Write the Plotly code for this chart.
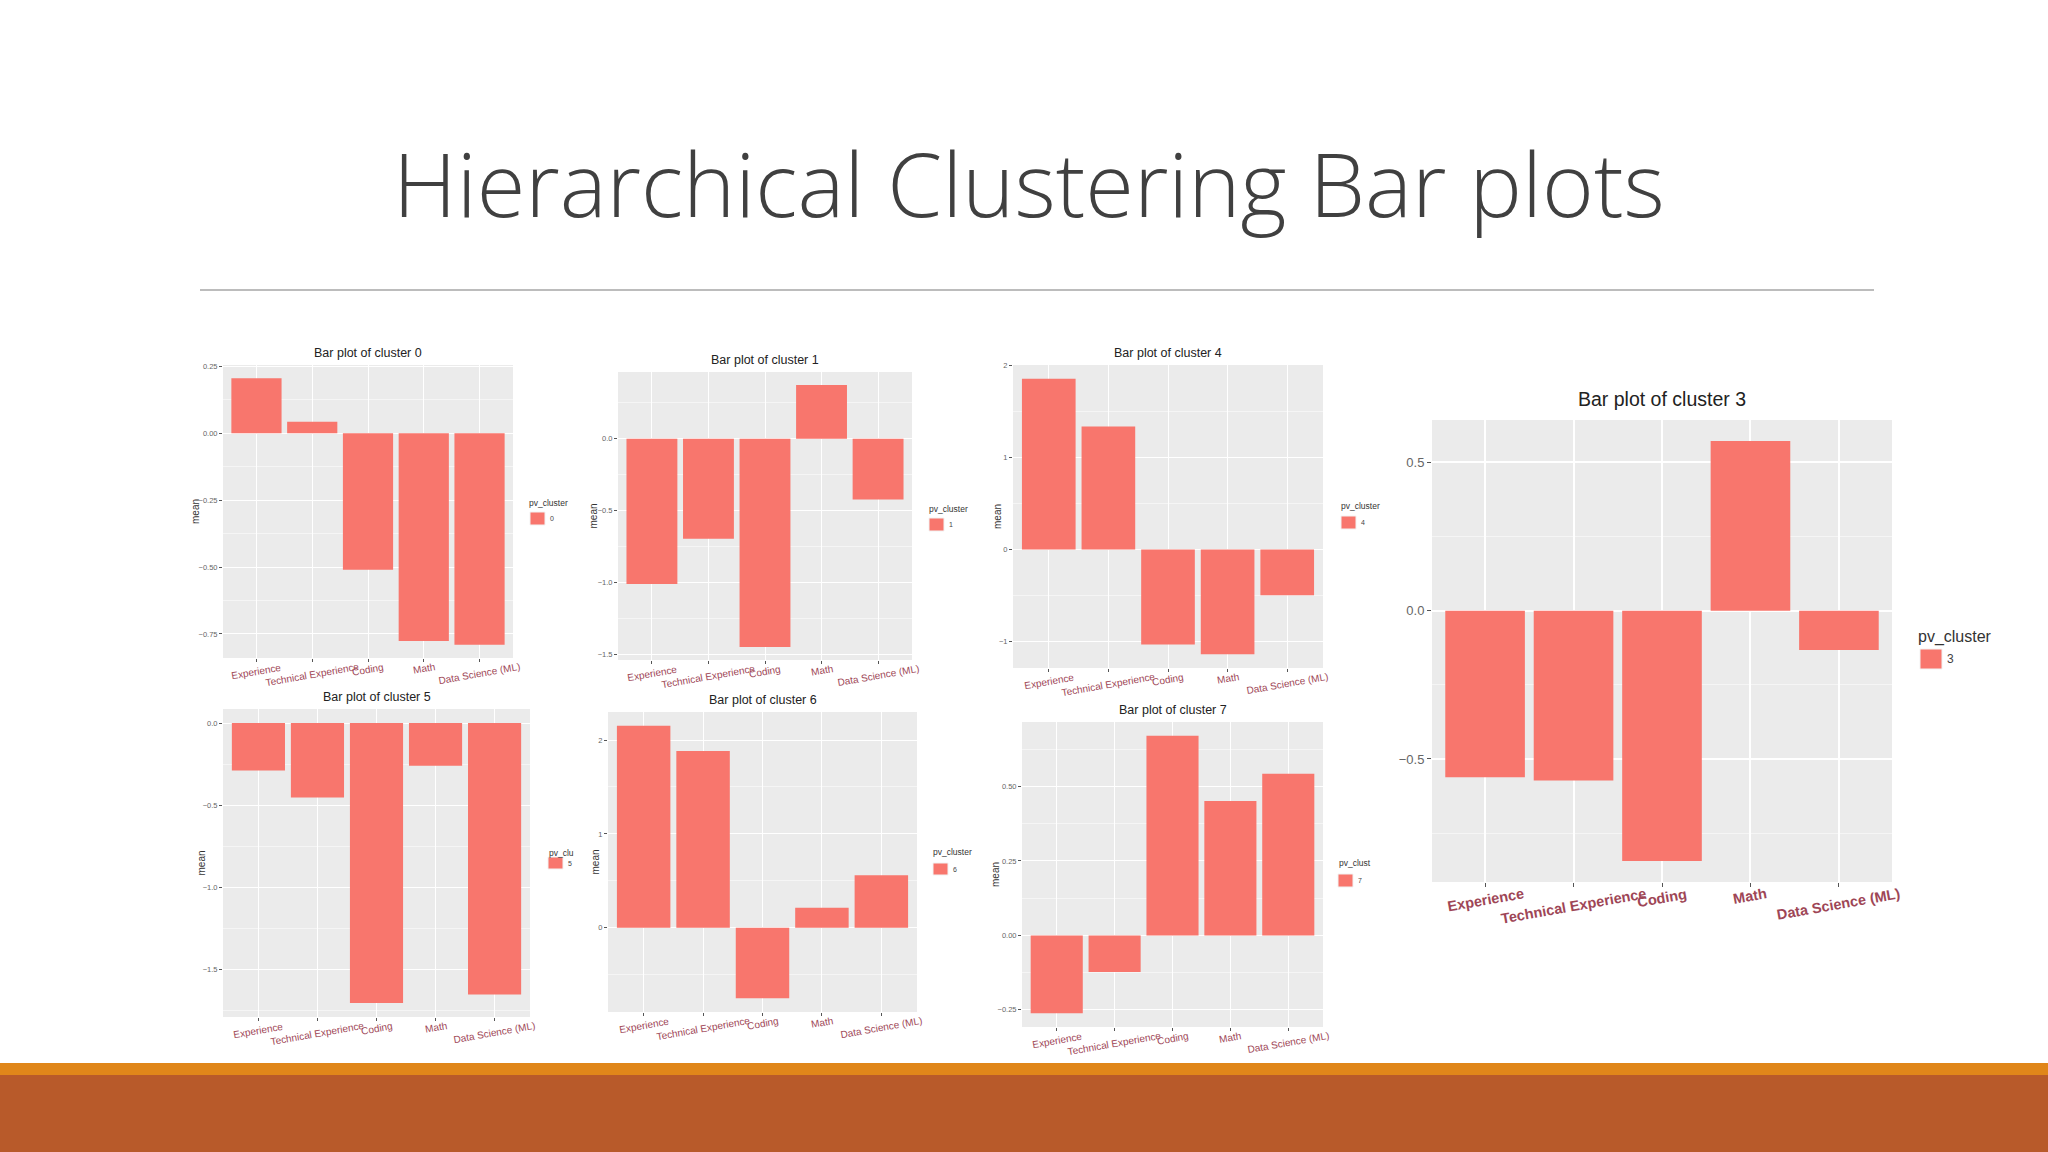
import plotly.graph_objects as go

# values (ggplot bar plots of cluster means)
categories = ["Experience", "Technical Experience", "Coding", "Math", "Data Science (ML)"]
cluster_ids = ["0", "1", "4", "3", "5", "6", "7"]
mean_0 = [0.205, 0.043, -0.510, -0.776, -0.790]
mean_1 = [-1.010, -0.695, -1.447, 0.373, -0.423]
mean_4 = [1.855, 1.337, -1.033, -1.140, -0.500]
mean_3 = [-0.562, -0.573, -0.844, 0.572, -0.133]
mean_5 = [-0.290, -0.453, -1.705, -0.261, -1.654]
mean_6 = [2.153, 1.883, -0.751, 0.214, 0.559]
mean_7 = [-0.261, -0.123, 0.670, 0.451, 0.543]
means = [mean_0, mean_1, mean_4, mean_3, mean_5, mean_6, mean_7]
legend_titles = ["pv_cluster", "pv_cluster", "pv_cluster", "pv_cluster", "pv_clu", "pv_cluster", "pv_clust"]
y_dtick = [0.25, 0.5, 1, 0.5, 0.5, 1, 0.25]
y_format = [".2f", ".1f", "d", ".1f", ".1f", "d", ".2f"]

W, H = 2048, 1152
BAR = "#F8766D"

# panel boxes in px: left, right, top, bottom
boxes = [
    (223, 513, 365, 658),
    (618, 912, 372, 660),
    (1013, 1323, 365, 668),
    (1432, 1892, 420, 882),
    (223, 530, 709, 1017),
    (608, 917, 712, 1012),
    (1022, 1323, 722, 1027),
]
# legend: title x, title y, key x, key y (top), key w, key h
legend_box = [
    (527, 503, 530, 512, 15, 13),
    (927, 509, 929, 518, 15, 13),
    (1339, 506, 1341, 516, 15, 13),
    (1916, 637, 1920, 649, 22, 20),
    (547, 853, 548, 857, 15, 12),
    (931, 852, 933, 863, 15, 12),
    (1337, 863, 1338, 874, 15, 13),
]
ylab_shift = [-35, -33, -23, None, -30, -21, -34]
big = [False, False, False, True, False, False, False]

fig = go.Figure()
annotations = []
shapes = []

for i, vals in enumerate(means):
    s = "" if i == 0 else str(i + 1)
    l, r, t, b = boxes[i]
    lo, hi = min(min(vals), 0), max(max(vals), 0)
    pad = 0.05 * (hi - lo)
    k = big[i]

    fig.add_trace(go.Bar(
        x=categories, y=vals, marker_color=BAR, marker_line_width=0,
        name=cluster_ids[i], xaxis="x" + s, yaxis="y" + s,
        showlegend=False, hoverinfo="x+y",
    ))

    gw = 1.6 if k else 1
    fig.layout["xaxis" + s] = dict(
        domain=[l / W, r / W], anchor="y" + s, type="category",
        categoryorder="array", categoryarray=categories, range=[-0.6, 4.6],
        showticklabels=False, ticks="outside", ticklen=4 if k else 3,
        tickcolor="#555", tickwidth=1, showgrid=True, gridcolor="white",
        gridwidth=gw, showline=False, zeroline=False, fixedrange=True,
    )
    fig.layout["yaxis" + s] = dict(
        domain=[1 - b / H, 1 - t / H], anchor="x" + s,
        range=[lo - pad, hi + pad], tick0=0, dtick=y_dtick[i],
        tickformat=y_format[i], ticks="outside", ticklen=4 if k else 3,
        tickcolor="#555", tickwidth=1,
        tickfont=dict(family="Liberation Sans", size=13 if k else 7.5, color="#666"),
        showgrid=True, gridcolor="white", gridwidth=gw, zeroline=False,
        showline=False, fixedrange=True,
        minor=dict(dtick=y_dtick[i] / 2, tick0=0, showgrid=True,
                   gridcolor="#F5F5F5", gridwidth=gw * 0.6, ticks=""),
    )

    # panel title
    annotations.append(dict(
        text="Bar plot of cluster " + cluster_ids[i], x=0.5, xref="x" + s + " domain",
        y=1, yref="y" + s + " domain", yanchor="bottom", yshift=8 if k else 3,
        showarrow=False,
        font=dict(family="Liberation Sans", size=19.5 if k else 12.5, color="#222"),
    ))
    # rotated category labels
    for c in categories:
        annotations.append(dict(
            text=c, x=c, xref="x" + s, y=0, yref="y" + s + " domain",
            yanchor="top", yshift=-1, textangle=-10, showarrow=False,
            font=dict(family="Liberation Sans", size=14.5 if k else 10,
                      color="#9E4656", weight="bold" if k else "normal"),
        ))
    # y title
    if ylab_shift[i] is not None:
        annotations.append(dict(
            text="mean", x=0, xref="x" + s + " domain", xshift=ylab_shift[i],
            y=0.5, yref="y" + s + " domain", textangle=-90, showarrow=False,
            font=dict(family="Liberation Sans", size=10, color="#333"),
        ))

    # ggplot-style legend: title, key, label
    tx, ty, kx, ky, kw, kh = legend_box[i]
    annotations.append(dict(
        text=legend_titles[i], x=tx / W, y=1 - ty / H, xref="paper", yref="paper",
        xanchor="left", yanchor="middle", showarrow=False,
        font=dict(family="Liberation Sans", size=16 if k else 8.5, color="#333"),
    ))
    shapes.append(dict(
        type="rect", xref="paper", yref="paper", x0=kx / W, x1=(kx + kw) / W,
        y0=1 - (ky + kh) / H, y1=1 - ky / H, fillcolor=BAR,
        line=dict(color="#F2F2F2", width=1),
    ))
    annotations.append(dict(
        text=cluster_ids[i], x=(kx + kw + 3) / W, y=1 - (ky + kh / 2) / H,
        xref="paper", yref="paper", xanchor="left", yanchor="middle", showarrow=False,
        font=dict(family="Liberation Sans", size=12 if k else 7, color="#444"),
    ))

# slide title
annotations.append(dict(
    text="Hierarchical Clustering Bar plots", x=1029 / W, y=1 - 183 / H,
    xref="paper", yref="paper", xanchor="center", yanchor="middle", showarrow=False,
    font=dict(family="Open Sans", size=88.5, color="#404040", weight=300),
))

shapes += [
    dict(type="line", xref="paper", yref="paper", x0=200 / W, x1=1874 / W,
         y0=1 - 290 / H, y1=1 - 290 / H, line=dict(color="#A6A6A6", width=1.5)),
    dict(type="rect", xref="paper", yref="paper", x0=0, x1=1,
         y0=1 - 1075 / H, y1=1 - 1063 / H, fillcolor="#E0861A", line_width=0),
    dict(type="rect", xref="paper", yref="paper", x0=0, x1=1,
         y0=0, y1=1 - 1075 / H, fillcolor="#B85A2A", line_width=0),
]

fig.update_layout(
    template="none", width=W, height=H, margin=dict(l=0, r=0, t=0, b=0),
    paper_bgcolor="white", plot_bgcolor="#EBEBEB", bargap=0.1, showlegend=False,
    annotations=annotations, shapes=shapes, hovermode="closest",
)

fig.write_html("out.html", config={"displayModeBar": False},
               post_script="document.body.style.margin='0';")
